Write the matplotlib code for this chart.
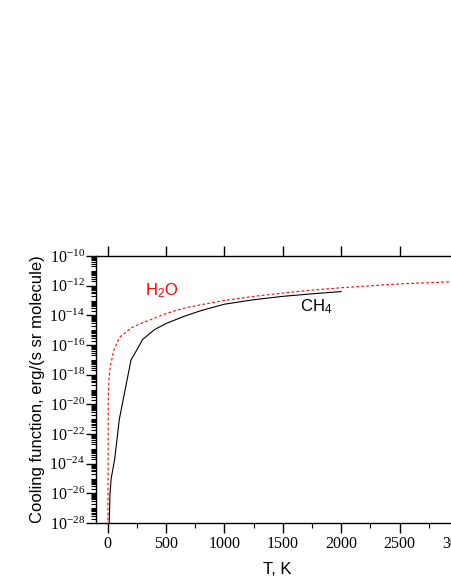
import numpy as np
import matplotlib
matplotlib.use("Agg")
from matplotlib import pyplot as plt
from matplotlib import ticker

plt.rcParams['mathtext.default'] = 'regular'
plt.rcParams['font.family'] = ['Liberation Sans', 'DejaVu Sans']

# CH4 cooling function (log10 values)
t_ch4 = [12, 20, 30, 60, 100, 200, 250, 300, 400, 500, 650, 800, 1000, 1250, 1500, 1750, 2000]
lg_ch4 = [-28.3, -26.0, -25.0, -23.7, -21.0, -17.0, -16.33, -15.62, -14.97, -14.55, -14.08,
          -13.68, -13.25, -12.95, -12.72, -12.55, -12.4]

# H2O cooling function (log10 values)
t_h2o = [2, 5, 10, 20, 50, 100, 200, 300, 400, 500, 650, 800, 1000, 1250, 1500, 1750, 2000, 2500, 3000]
lg_h2o = [-28.5, -19.8, -18.4, -17.6, -16.4, -15.5, -14.85, -14.5, -14.2, -13.88, -13.52, -13.28,
          -13.0, -12.72, -12.5, -12.3, -12.14, -11.88, -11.72]

x_ticks = [0, 500, 1000, 1500, 2000, 2500, 3000]

fig = plt.figure(figsize=(4.52, 5.85), dpi=100)
# axes runs off the right edge like in the original
ax = fig.add_axes([96/452., 62/585., 362/452., 267/585.])

ax.plot(t_ch4, 10**np.array(lg_ch4), color='black', lw=0.8)
ax.plot(t_h2o, 10**np.array(lg_h2o), color='red', lw=0.8, ls=(0, (2.5, 2)))

ax.set_yscale('log')
ax.set_xlim(-100, 3000)
ax.set_ylim(1e-28, 1e-10)

ax.yaxis.set_major_locator(ticker.LogLocator(base=100, numticks=20))
ax.yaxis.set_minor_locator(ticker.LogLocator(base=10, subs=np.arange(1, 10), numticks=40))
ax.yaxis.set_minor_formatter(ticker.NullFormatter())
ax.set_xticks(x_ticks)
ax.xaxis.set_minor_locator(ticker.MultipleLocator(250))

ax.tick_params(which='major', direction='out', length=7, width=1, top=True, labelsize=11.5, pad=2)
ax.tick_params(which='minor', direction='out', length=3.5, width=0.8, top=False)
ax.tick_params(axis='y', which='major', pad=1)
for lab in ax.get_xticklabels() + ax.get_yticklabels():
  lab.set_family(['Liberation Serif'])
for sp in ax.spines.values():
  sp.set_linewidth(1.0)

ax.text(323, 10**-12.63, 'H$_2$O', color='red', fontsize=12, ha='left', va='baseline')
ax.text(1648, 10**-13.75, 'CH$_4$', color='black', fontsize=12, ha='left', va='baseline')

ax.set_xlabel('T, K', fontsize=12)
ax.set_ylabel('Cooling function, erg/(s sr molecule)', fontsize=12)
ax.xaxis.set_label_coords(181/362., -0.145)
ax.yaxis.set_label_coords(-51/362., 0.5)

plt.savefig('out.png', dpi=100)
